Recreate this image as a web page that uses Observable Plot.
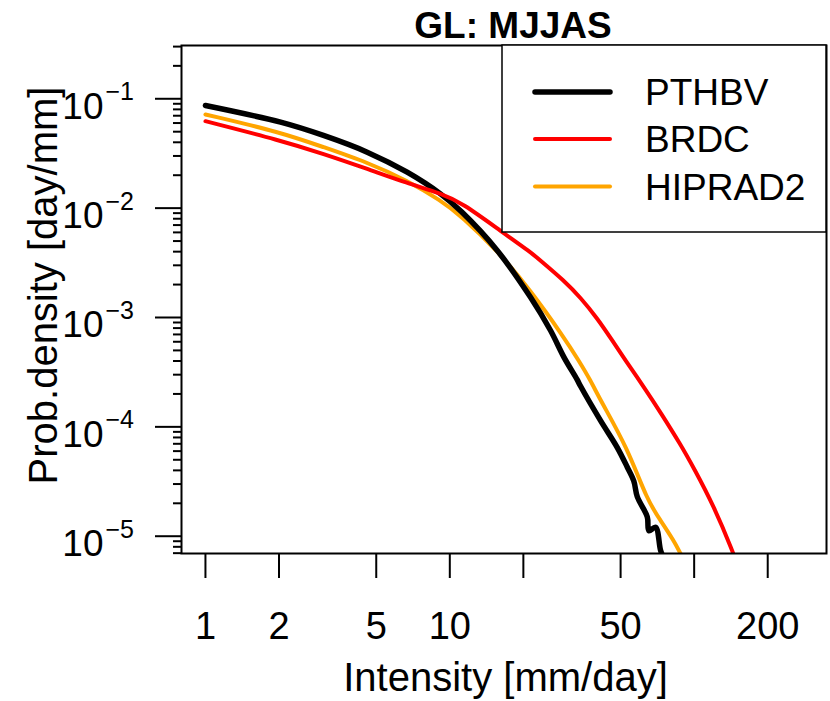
<!DOCTYPE html>
<html><head><meta charset="utf-8">
<script src="https://cdn.jsdelivr.net/npm/d3@7"></script>
<script src="https://cdn.jsdelivr.net/npm/@observablehq/plot@0.6"></script>
<style>body{margin:0;background:#fff}</style>
</head><body><div id="chart"></div>
<script>
const seriesNames = ["PTHBV", "BRDC", "HIPRAD2"];
const seriesColors = ["#000000", "#ff0000", "#ffa500"];

const pthbvX = [1, 2.03, 3.04, 4.59, 6.69, 9.16, 11.2, 15.63, 21.4, 25.84, 29.3, 33.2, 34.3, 41.4, 48.4, 53.2, 56.6, 58.5, 64.3, 65.3, 69.5, 72.9, 75.2];
const pthbvY = [0.0868, 0.0611, 0.0462, 0.0325, 0.0213, 0.0135, 0.0092, 0.0041, 0.00153, 0.00076, 0.000434, 0.000270, 0.000235, 0.000114, 6.5e-5, 4.3e-5, 3.2e-5, 2.3e-5, 1.5e-5, 1.12e-5, 1.21e-5, 7.4e-6, 6.2e-6];

const brdcX = [1, 2.03, 3.04, 4.59, 6.69, 9.16, 11.2, 16.39, 21.4, 23.5, 29.3, 34.3, 40.2, 46.8, 51.4, 64.5, 72.9, 88.0, 99.4, 120.1, 145, 147.7];
const brdcY = [0.0624, 0.0416, 0.0314, 0.0229, 0.0169, 0.0137, 0.0112, 0.00603, 0.00396, 0.00332, 0.00218, 0.00152, 0.000979, 0.000591, 0.000431, 0.000206, 0.000135, 6.9e-5, 4.25e-5, 1.91e-5, 6.95e-6, 6.0e-6];

const hipradX = [1, 2.03, 3.04, 4.59, 6.69, 9.16, 11.2, 15.63, 21.4, 29.3, 33.7, 37.7, 41.4, 53.2, 64.3, 72.9, 82.6, 88.0, 90];
const hipradY = [0.0719, 0.0495, 0.0361, 0.0263, 0.0179, 0.0118, 0.0084, 0.0041, 0.00177, 0.00066, 0.000404, 0.000265, 0.000174, 6.5e-5, 2.12e-5, 1.39e-5, 9.1e-6, 6.9e-6, 6.3e-6];

const xTicks = [1, 2, 5, 10, 20, 50, 100, 200];
const xTickLabels = ["1", "2", "5", "10", "", "50", "", "200"];
const yMajor = [1e-1, 1e-2, 1e-3, 1e-4, 1e-5];
const yExponents = ["\u22121", "\u22122", "\u22123", "\u22124", "\u22125"];

const titleText = "GL: MJJAS";
const xTitle = "Intensity [mm/day]";
const yTitle = "Prob.density [day/mm]";

const yMinor = [];
for (let e = -6; e <= -1; e++) for (let m = 2; m <= 9; m++) {
  const v = m * Math.pow(10, e);
  if (v >= 6.95e-6 && v <= 0.307) yMinor.push(v);
}

const toRows = (xs, ys) => xs.map((x, i) => ({x, y: ys[i]}));
const pthbv = toRows(pthbvX, pthbvY);
const brdc = toRows(brdcX, brdcY);
const hiprad = toRows(hipradX, hipradY);
const xLabelRows = xTicks.map((v, i) => ({v, label: xTickLabels[i]})).filter(d => d.label !== "");

const font = "'Liberation Sans', Arial, Helvetica, sans-serif";

const chart = Plot.plot({
  width: 830, height: 701,
  marginLeft: 181, marginRight: 4, marginTop: 45, marginBottom: 148,
  style: {fontFamily: font, background: "white", color: "black", overflow: "visible"},
  x: {type: "log", domain: [0.798, 348]},
  y: {type: "log", domain: [6.95e-6, 0.307]},
  marks: [
    Plot.axisX({ticks: xTicks, tickSize: 25, strokeWidth: 2, tickFormat: () => "", label: null}),
    Plot.text(xLabelRows, {x: "v", text: "label", frameAnchor: "bottom", textAnchor: "middle",
      dy: 85, lineAnchor: "bottom", fontSize: 38}),
    Plot.axisY({ticks: yMajor, tickSize: 26, strokeWidth: 2, tickFormat: () => "", label: null}),
    Plot.axisY({ticks: yMinor, tickSize: 8, strokeWidth: 2, tickFormat: () => "", label: null}),
    Plot.text(yMajor, {y: d => d, text: () => "10", frameAnchor: "left", textAnchor: "end",
      dx: -78, dy: 20, lineAnchor: "bottom", fontSize: 37}),
    Plot.text(yMajor, {y: d => d, text: (d, i) => yExponents[i], frameAnchor: "left", textAnchor: "start",
      dx: -76, dy: 1.5, lineAnchor: "bottom", fontSize: 25}),
    Plot.line(hiprad, {x: "x", y: "y", stroke: seriesColors[2], strokeWidth: 4, curve: "basis", clip: true}),
    Plot.line(pthbv, {x: "x", y: "y", stroke: seriesColors[0], strokeWidth: 5.5, curve: "catmull-rom", clip: true}),
    Plot.line(brdc, {x: "x", y: "y", stroke: seriesColors[1], strokeWidth: 4, curve: "basis", clip: true}),
    Plot.frame({stroke: "black", strokeWidth: 2}),
    Plot.text([titleText], {text: d => d, frameAnchor: "top", textAnchor: "middle", dx: 9, dy: -8,
      lineAnchor: "bottom", fontSize: 37, fontWeight: "bold"}),
    Plot.text([xTitle], {text: d => d, frameAnchor: "bottom", textAnchor: "middle", dx: 1.5, dy: 137,
      lineAnchor: "bottom", fontSize: 40}),
    Plot.text([yTitle], {text: d => d, frameAnchor: "left", textAnchor: "middle", rotate: -90,
      dx: -125, dy: -14, lineAnchor: "bottom", fontSize: 40})
  ]
});

document.getElementById("chart").appendChild(chart);

// legend
const svg = d3.select(chart);
const g = svg.append("g").attr("font-family", font).attr("text-anchor", "start");
g.append("rect").attr("x", 502).attr("y", 45).attr("width", 324).attr("height", 187)
  .attr("fill", "white").attr("stroke", "black").attr("stroke-width", 1.5);
const legendY = [92, 139, 186.5];
const legendW = [5.5, 4, 4];
seriesNames.forEach((name, i) => {
  g.append("line").attr("x1", 535).attr("x2", 610).attr("y1", legendY[i]).attr("y2", legendY[i])
    .attr("stroke", seriesColors[i]).attr("stroke-width", legendW[i]).attr("stroke-linecap", "round");
  g.append("text").attr("x", 645).attr("y", legendY[i] + 13).attr("font-size", 37)
    .attr("text-anchor", "start").attr("fill", "black").text(name);
});
</script>
</body></html>
